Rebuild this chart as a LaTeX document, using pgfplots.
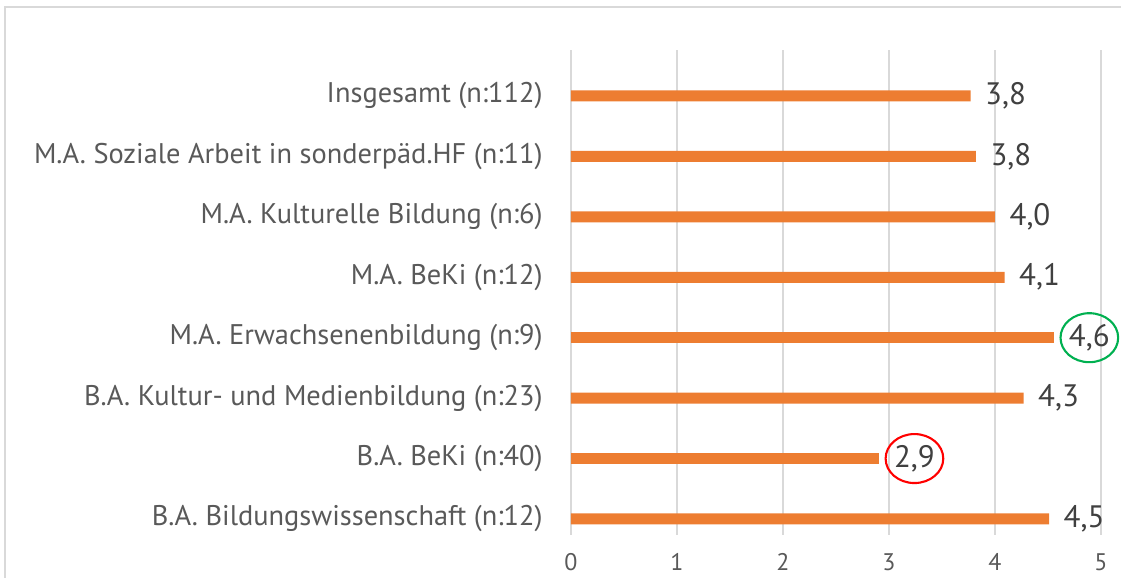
\documentclass[border=0pt]{standalone}
\usepackage{pgfplots}
\pgfplotsset{compat=1.18}
\usepackage{fontspec}
\setmainfont{PT Sans}
\usetikzlibrary{shapes.geometric}

\definecolor{barorange}{HTML}{ED7D31}
\definecolor{gridgray}{HTML}{D9D9D9}
\definecolor{labelgray}{HTML}{595959}
\definecolor{valgray}{HTML}{404040}
\definecolor{ringgreen}{HTML}{00B050}
\definecolor{ringred}{HTML}{FF0000}

\begin{document}
\begin{tikzpicture}
\useasboundingbox (-285.5pt,-21.5pt) rectangle (275pt,267.5pt);
% chart frame (right and bottom edges are cut off in the reference)
\draw[gridgray, line width=0.75pt] (-283pt,-21.5pt) -- (-283pt,264pt) -- (275pt,264pt);
\begin{axis}[
    at={(0,0)}, anchor=south west,
    scale only axis,
    width=265pt, height=242.5pt,
    xbar, bar width=5.5pt, bar shift=0pt,
    xmin=0, xmax=5,
    ymin=-0.265, ymax=7.761,
    xtick={0,1,2,3,4,5},
    ytick={0,1,2,3,4,5,6,7},
    yticklabels={
        B.A. Bildungswissenschaft (n:12),
        B.A. BeKi (n:40),
        B.A. Kultur- und Medienbildung (n:23),
        M.A. Erwachsenenbildung (n:9),
        M.A. BeKi (n:12),
        M.A. Kulturelle Bildung (n:6),
        M.A. Soziale Arbeit in sonderpäd.HF (n:11),
        Insgesamt (n:112)},
    xmajorgrids,
    grid style={gridgray, line width=1pt},
    axis line style={draw=none},
    major tick length=0pt,
    /pgf/number format/assume math mode=true,
    xticklabel style={font=\fontsize{12}{14}\selectfont, text=labelgray,
        anchor=north, inner sep=0pt, yshift=-9pt},
    yticklabel style={font=\fontsize{14.2}{17}\selectfont, text=labelgray,
        anchor=east, inner sep=0pt, xshift=-14pt},
    point meta=x,
    nodes near coords={\pgfmathprintnumber[fixed, fixed zerofill, precision=1, use comma, assume math mode=true]{\pgfplotspointmeta}},
    nodes near coords style={anchor=center, xshift=17.5pt,
        font=\fontsize{15.5}{18}\selectfont, text=valgray,
        shape=ellipse, minimum width=27.5pt, minimum height=24.5pt, inner sep=0pt,
        line width=1.05pt},
    clip=false,
]
% plain labels
\addplot[fill=barorange, draw=none] coordinates {
    (4.51,0) (4.27,2) (4.09,4) (4.00,5) (3.82,6) (3.77,7)};
% B.A. BeKi, red ring
\addplot[fill=barorange, draw=none,
    nodes near coords style={draw=ringred}] coordinates {(2.91,1)};
% M.A. Erwachsenenbildung, green ring
\addplot[fill=barorange, draw=none,
    nodes near coords style={draw=ringgreen}] coordinates {(4.56,3)};
\end{axis}
\end{tikzpicture}
\end{document}
